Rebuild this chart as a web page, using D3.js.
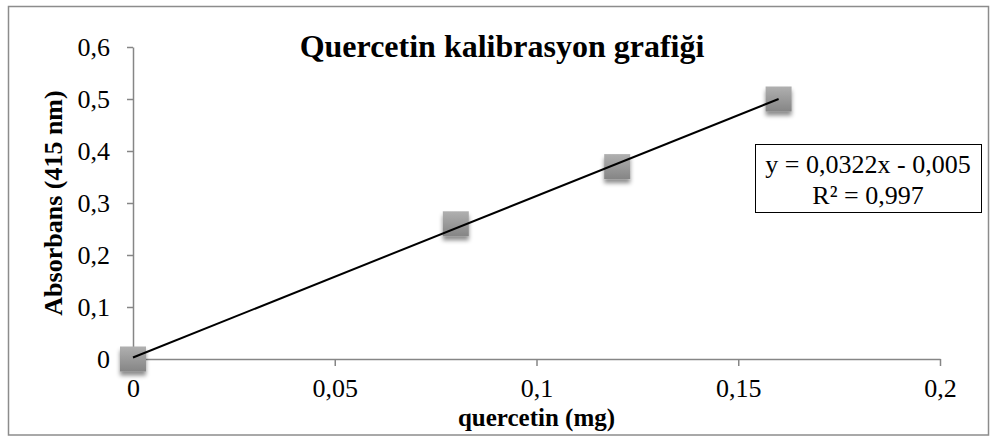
<!DOCTYPE html>
<html>
<head>
<meta charset="utf-8">
<script src="https://cdn.jsdelivr.net/npm/d3@7"></script>
<style>
  html, body { margin: 0; padding: 0; background: #fff; }
  svg { display: block; }
  text { font-family: "Liberation Serif", "Times New Roman", serif; fill: #000; }
</style>
</head>
<body>
<svg id="chart" width="993" height="436"></svg>
<script>
// Calibration data: quercetin amount (mg) vs absorbance at 415 nm
const quercetinMg = [0, 0.08, 0.12, 0.16];
const absorbance  = [0, 0.26, 0.37, 0.50];

const xTicks = [0, 0.05, 0.1, 0.15, 0.2];
const yTicks = [0, 0.1, 0.2, 0.3, 0.4, 0.5, 0.6];

const titleText = "Quercetin kalibrasyon grafiği";
const xTitle = "quercetin (mg)";
const yTitle = "Absorbans (415 nm)";
const equationLines = ["y = 0,0322x - 0,005", "R² = 0,997"];

const svg = d3.select("#chart");

// Plot area
const x0 = 133, x1 = 940, y0 = 359, y1 = 47;
const x = d3.scaleLinear().domain([0, 0.2]).range([x0, x1]);
const y = d3.scaleLinear().domain([0, 0.6]).range([y0, y1]);

const fmt = v => String(+v.toFixed(3)).replace(".", ",");

// Outer chart border
svg.append("rect")
  .attr("x", 8.5).attr("y", 6.5)
  .attr("width", 980).attr("height", 428.5)
  .attr("fill", "#fff")
  .attr("stroke", "#8c8c8c").attr("stroke-width", 1.5);

// Definitions: marker gradient and shadow
const defs = svg.append("defs");
const grad = defs.append("linearGradient")
  .attr("id", "mkGrad").attr("x1", 0).attr("y1", 0).attr("x2", 0).attr("y2", 1);
grad.append("stop").attr("offset", "0%").attr("stop-color", "#b0b0b0");
grad.append("stop").attr("offset", "100%").attr("stop-color", "#858585");
const filt = defs.append("filter").attr("id", "mkShadow")
  .attr("x", "-50%").attr("y", "-50%").attr("width", "200%").attr("height", "200%");
filt.append("feDropShadow")
  .attr("dx", 0).attr("dy", 4).attr("stdDeviation", 2.2)
  .attr("flood-color", "#000").attr("flood-opacity", 0.45);

// Axes
const axisColor = "#868686";
const xAxis = svg.append("g")
  .attr("transform", `translate(0,${y0})`)
  .call(d3.axisBottom(x).tickValues(xTicks).tickSize(7).tickSizeOuter(0).tickFormat(fmt));
const yAxis = svg.append("g")
  .attr("transform", `translate(${x0},0)`)
  .call(d3.axisLeft(y).tickValues(yTicks).tickSize(6).tickSizeOuter(0).tickFormat(fmt));

[xAxis, yAxis].forEach(g => {
  g.select(".domain").attr("stroke", axisColor).attr("stroke-width", 1.5);
  g.selectAll(".tick line").attr("stroke", axisColor).attr("stroke-width", 1.5);
  g.selectAll(".tick text")
    .attr("font-family", "Liberation Serif, Times New Roman, serif")
    .attr("font-size", 26).attr("fill", "#000");
});
xAxis.selectAll(".tick text").attr("y", 0).attr("dy", 0).attr("transform", "translate(0,38)");
yAxis.selectAll(".tick text").attr("x", -23).attr("dy", "0.32em");

// Data markers
svg.append("g").selectAll("rect")
  .data(quercetinMg.map((v, i) => [v, absorbance[i]]))
  .join("rect")
  .attr("x", d => x(d[0]) - 13)
  .attr("y", d => y(d[1]) - 12.5)
  .attr("width", 26).attr("height", 25)
  .attr("fill", "url(#mkGrad)")
  .attr("filter", "url(#mkShadow)");

// Least-squares trendline over the data range
const mx = d3.mean(quercetinMg), my = d3.mean(absorbance);
const sxy = d3.sum(quercetinMg, (v, i) => (v - mx) * (absorbance[i] - my));
const sxx = d3.sum(quercetinMg, v => (v - mx) ** 2);
const slope = sxy / sxx, intercept = my - slope * mx;
const xMin = d3.min(quercetinMg), xMax = d3.max(quercetinMg);
svg.append("line")
  .attr("x1", x(xMin)).attr("y1", y(intercept + slope * xMin))
  .attr("x2", x(xMax)).attr("y2", y(intercept + slope * xMax))
  .attr("stroke", "#000").attr("stroke-width", 2);

// Title
svg.append("text")
  .attr("x", 502).attr("y", 57)
  .attr("text-anchor", "middle")
  .attr("font-size", 32).attr("font-weight", "bold")
  .text(titleText);

// Axis titles
svg.append("text")
  .attr("x", (x0 + x1) / 2).attr("y", 426)
  .attr("text-anchor", "middle")
  .attr("font-size", 25).attr("font-weight", "bold")
  .text(xTitle);
svg.append("text")
  .attr("transform", `translate(62,${(y0 + y1) / 2}) rotate(-90)`)
  .attr("text-anchor", "middle")
  .attr("font-size", 26).attr("font-weight", "bold")
  .text(yTitle);

// Trendline equation box
svg.append("rect")
  .attr("x", 755.5).attr("y", 144.5)
  .attr("width", 226).attr("height", 68)
  .attr("fill", "#fff").attr("stroke", "#000").attr("stroke-width", 1);
svg.append("g").selectAll("text")
  .data(equationLines)
  .join("text")
  .attr("x", 868).attr("y", (d, i) => 173 + i * 31)
  .attr("text-anchor", "middle")
  .attr("font-size", 26)
  .text(d => d);
</script>
</body>
</html>
